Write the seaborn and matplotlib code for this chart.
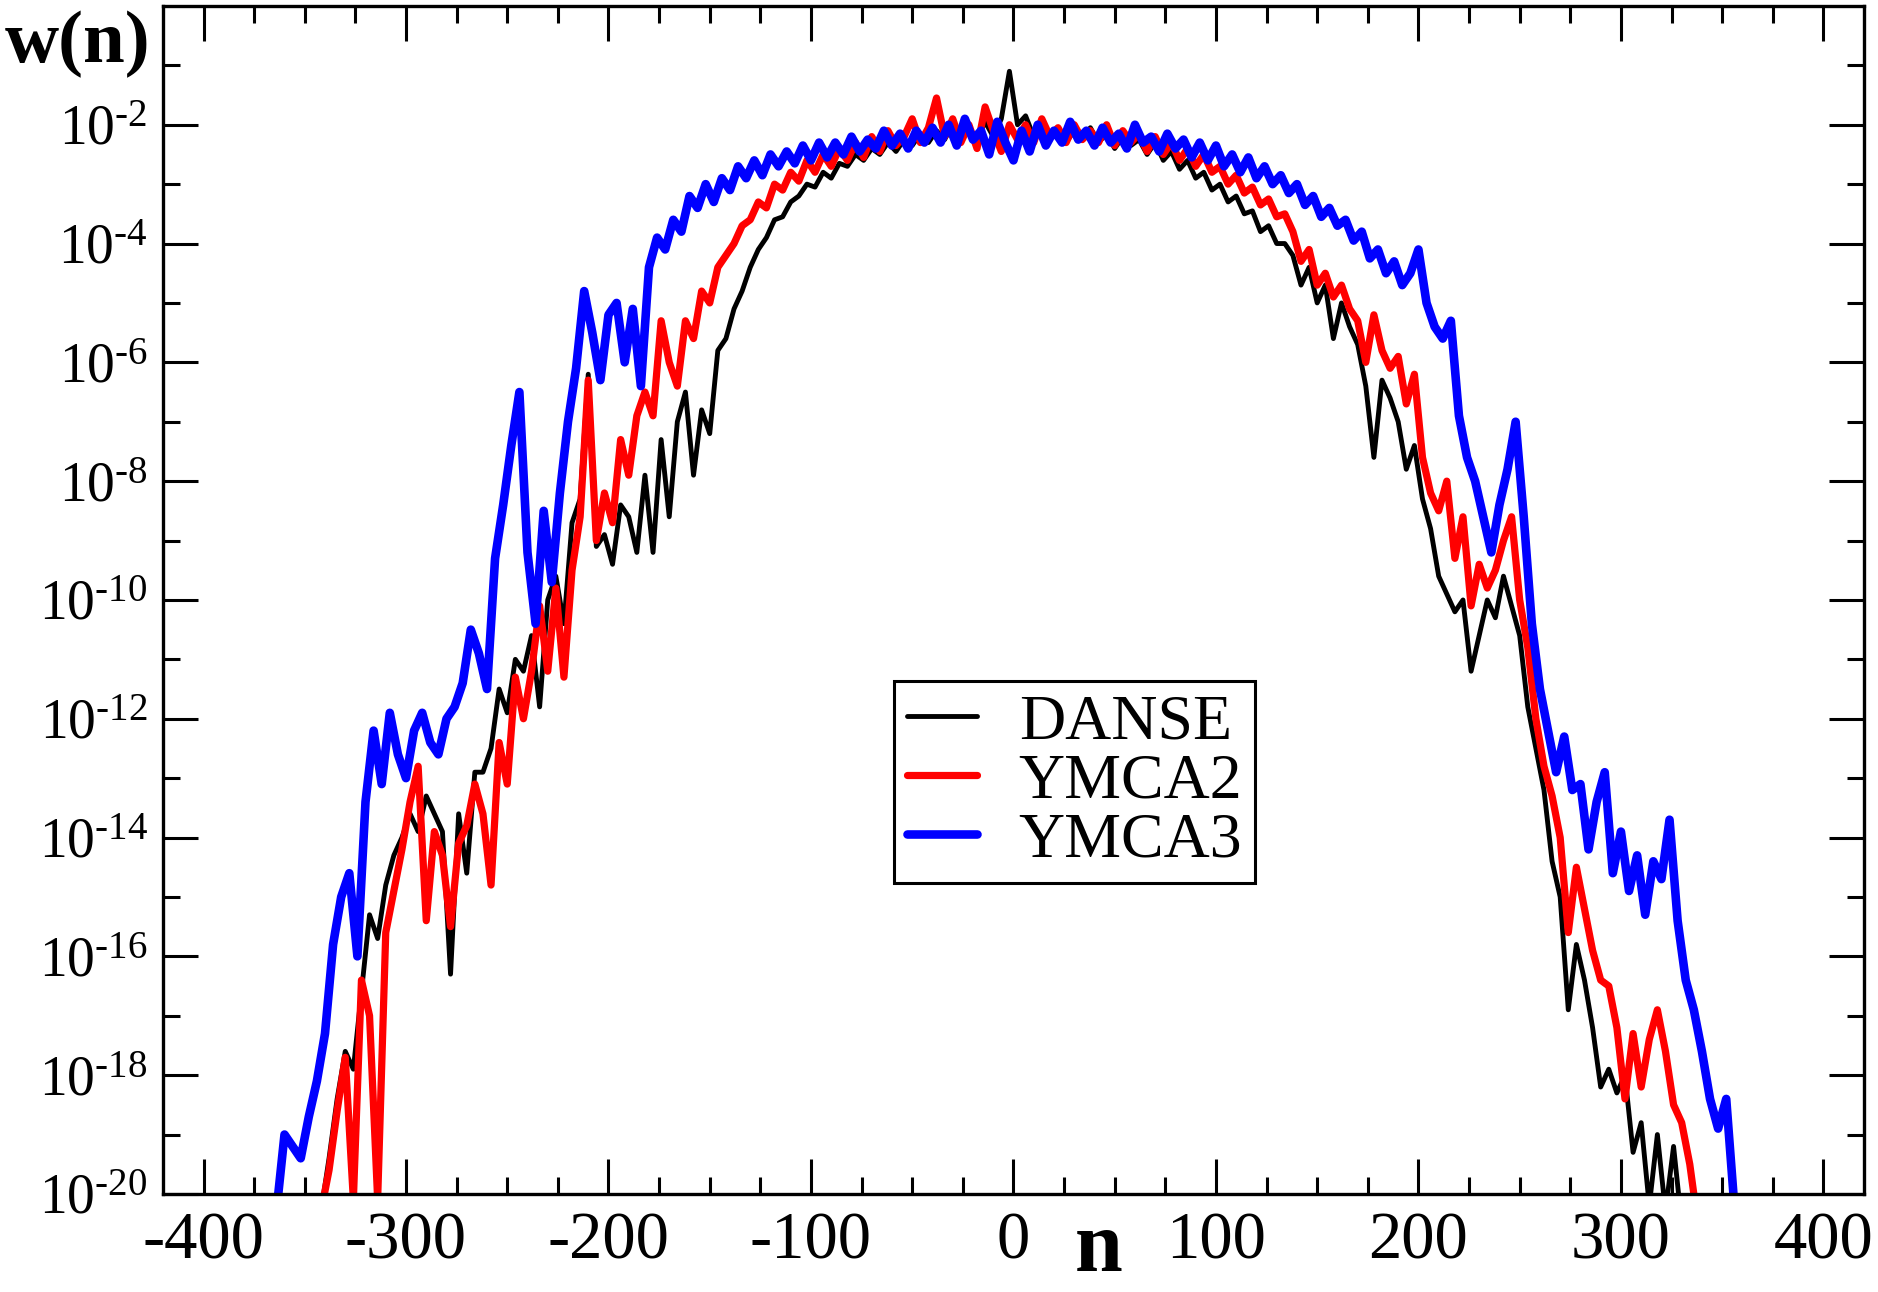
import numpy as np
import matplotlib
matplotlib.use("Agg")
import matplotlib.pyplot as plt
import seaborn as sns
from matplotlib.ticker import NullFormatter

# series data: n on an integer grid (every 4th site), values are log10 w(n)
n_danse = np.arange(-342, 331, 4)
logw_danse = [
    -20.3, -19.4, -18.4, -17.6, -17.9, -16.6, -15.3, -15.7, -14.8, -14.3,
    -14.0, -13.6, -13.9, -13.3, -13.6, -13.9, -16.3, -13.6, -14.6, -12.9,
    -12.9, -12.5, -11.5, -11.9, -11.0, -11.2, -10.6, -11.8, -10.0, -9.6,
    -10.4, -8.7, -8.3, -6.2, -9.1, -8.9, -9.4, -8.4, -8.6, -9.2,
    -7.9, -9.2, -7.3, -8.6, -7.0, -6.5, -7.9, -6.8, -7.2, -5.8,
    -5.6, -5.1, -4.8, -4.4, -4.1, -3.9, -3.6, -3.55, -3.3, -3.2,
    -3.0, -3.05, -2.8, -2.9, -2.65, -2.7, -2.5, -2.6, -2.4, -2.5,
    -2.3, -2.45, -2.25, -2.35, -2.15, -2.3, -2.1, -2.25, -2.0, -2.2,
    -2.05, -2.25, -1.95, -2.2, -1.9, -1.1,
    -2.0, -1.85, -2.2, -2.0, -2.25, -2.05, -2.3, -2.1, -2.2, -2.05,
    -2.3, -2.15, -2.4, -2.2, -2.35, -2.25, -2.5, -2.3, -2.6, -2.45,
    -2.75, -2.6, -2.9, -2.8, -3.1, -3.0, -3.3, -3.2, -3.5, -3.45,
    -3.8, -3.7, -4.0, -4.0, -4.2, -4.7, -4.4, -5.0, -4.7, -5.6,
    -5.0, -5.4, -5.7, -6.4, -7.6, -6.3, -6.6, -7.0, -7.8, -7.4,
    -8.3, -8.8, -9.6, -9.9, -10.2, -10.0, -11.2, -10.6, -10.0, -10.3,
    -9.6, -10.1, -10.6, -11.8, -12.5, -13.2, -14.4, -15.0, -16.9, -15.8,
    -16.4, -17.2, -18.2, -17.9, -18.3, -18.0, -19.3, -18.8, -20.2, -19.0,
    -20.3, -19.2, -20.5,
]

n_ymca2 = np.arange(-342, 339, 4)
logw_ymca2 = [
    -20.3, -19.6, -18.6, -17.7, -20.1, -16.4, -17.0, -20.1, -15.6, -14.9,
    -14.2, -13.4, -12.8, -15.4, -13.9, -14.3, -15.5, -14.1, -13.8, -13.1,
    -13.6, -14.8, -12.4, -13.1, -11.3, -12.0, -11.2, -10.1, -11.2, -9.8,
    -11.3, -9.5, -8.6, -6.3, -9.0, -8.2, -8.7, -7.3, -7.9, -6.9,
    -6.5, -6.9, -5.3, -6.0, -6.4, -5.3, -5.6, -4.8, -5.0, -4.4,
    -4.2, -4.0, -3.7, -3.6, -3.3, -3.4, -3.0, -3.1, -2.8, -2.95,
    -2.6, -2.8, -2.5, -2.7, -2.4, -2.6, -2.3, -2.55, -2.2, -2.45,
    -2.1, -2.35, -2.2, -1.9, -2.3, -2.05, -1.55, -2.2, -1.9, -2.3,
    -2.0, -2.4, -1.7, -2.1, -2.45, -2.0,
    -2.25, -2.0, -2.3, -1.9, -2.2, -2.05, -2.3, -2.0, -2.25, -2.1,
    -2.3, -2.0, -2.35, -2.1, -2.3, -2.15, -2.45, -2.2, -2.5, -2.3,
    -2.6, -2.4, -2.7, -2.5, -2.8, -2.7, -3.0, -2.85, -3.15, -3.05,
    -3.35, -3.25, -3.55, -3.5, -3.8, -4.3, -4.1, -4.7, -4.5, -4.9,
    -4.7, -5.1, -5.3, -6.0, -5.2, -5.8, -6.1, -5.9, -6.7, -6.2,
    -7.6, -8.2, -8.5, -8.0, -9.3, -8.6, -10.1, -9.4, -9.8, -9.5,
    -9.0, -8.6, -10.0, -10.8, -12.0, -12.8, -13.3, -14.0, -15.6, -14.5,
    -15.2, -15.9, -16.4, -16.5, -17.2, -18.4, -17.3, -18.2, -17.4, -16.9,
    -17.6, -18.5, -18.8, -19.5, -20.5,
]

n_ymca3 = np.arange(-364, 357, 4)
logw_ymca3 = [
    -20.3, -19.0, -19.2, -19.4, -18.7, -18.1, -17.3, -15.8, -15.0, -14.6,
    -16.0, -13.4, -12.2, -13.1, -11.9, -12.6, -13.0, -12.2, -11.9, -12.4,
    -12.6, -12.0, -11.8, -11.4, -10.5, -10.9, -11.5, -9.3, -8.4, -7.4,
    -6.5, -9.2, -10.4, -8.5, -9.7, -8.2, -7.0, -6.1, -4.8, -5.5,
    -6.3, -5.2, -5.0, -6.0, -5.1, -6.4, -4.4, -3.9, -4.1, -3.6,
    -3.8, -3.2, -3.4, -3.0, -3.3, -2.9, -3.1, -2.7, -2.9, -2.6,
    -2.85, -2.5, -2.7, -2.45, -2.65, -2.35, -2.6, -2.3, -2.55, -2.3,
    -2.5, -2.2, -2.45, -2.25, -2.4, -2.1, -2.35, -2.15, -2.4, -2.1,
    -2.3, -2.05, -2.3, -2.0, -2.35, -1.9, -2.25, -2.1, -2.5, -1.95,
    -2.3, -2.6,
    -2.1, -2.45, -2.0, -2.35, -2.1, -2.3, -1.95, -2.25, -2.1, -2.35,
    -2.05, -2.3, -2.15, -2.4, -2.0, -2.3, -2.2, -2.45, -2.15, -2.4,
    -2.25, -2.55, -2.3, -2.6, -2.35, -2.7, -2.5, -2.8, -2.55, -2.9,
    -2.7, -3.0, -2.85, -3.15, -3.0, -3.35, -3.2, -3.55, -3.4, -3.7,
    -3.6, -3.95, -3.8, -4.25, -4.1, -4.5, -4.3, -4.7, -4.5, -4.1,
    -5.0, -5.4, -5.6, -5.3, -6.9, -7.6, -8.0, -8.6, -9.2, -8.4,
    -7.8, -7.0, -8.6, -10.4, -11.5, -12.2, -12.9, -12.3, -13.2, -13.1,
    -14.2, -13.4, -12.9, -14.6, -13.9, -14.9, -14.3, -15.3, -14.4, -14.7,
    -13.7, -15.4, -16.4, -16.9, -17.6, -18.4, -18.9, -18.4, -20.2,
]

x_ticks = [-400, -300, -200, -100, 0, 100, 200, 300, 400]
x_ticklabels = ["-400", "-300", "-200", "-100", "0", "100", "200", "300", "400"]
y_exponents = [-20, -18, -16, -14, -12, -10, -8, -6, -4, -2]

sns.set_style("ticks")
plt.rcParams['font.family'] = ['Liberation Serif', 'DejaVu Serif']
plt.rcParams['mathtext.fontset'] = 'custom'
plt.rcParams['mathtext.rm'] = 'Liberation Serif'
plt.rcParams['mathtext.it'] = 'Liberation Serif:italic'
plt.rcParams['mathtext.bf'] = 'Liberation Serif:bold'
plt.rcParams['axes.unicode_minus'] = False
for key in ['text.color', 'axes.labelcolor', 'xtick.color', 'ytick.color', 'axes.edgecolor']:
    plt.rcParams[key] = 'black'

fig, ax = plt.subplots(figsize=(18.78, 12.92), dpi=100)
fig.subplots_adjust(left=0.0868, right=0.9925, bottom=0.0759, top=0.9954)
ax.set_yscale('log')

sns.lineplot(x=n_danse, y=10.0 ** np.array(logw_danse), color='black', lw=3.5,
             label='DANSE', ax=ax)
sns.lineplot(x=n_ymca2, y=10.0 ** np.array(logw_ymca2), color='#ff0000', lw=5.2,
             label='YMCA2', ax=ax)
sns.lineplot(x=n_ymca3, y=10.0 ** np.array(logw_ymca3), color='#0000ff', lw=6.2,
             label='YMCA3', ax=ax)

ax.set_xlim(-420, 420)
ax.set_ylim(1e-20, 1.0)

ax.set_xticks(x_ticks, labels=x_ticklabels)
ax.set_xticks(np.arange(-400, 401, 25), minor=True)
ax.set_yticks([10.0 ** e for e in y_exponents],
              labels=[r'$10^{\text{-}%d}$' % (-e) for e in y_exponents])
ax.set_yticks([10.0 ** e for e in range(-19, 0, 2)], minor=True)
ax.yaxis.set_minor_formatter(NullFormatter())

ax.tick_params(which='both', direction='in', top=True, right=True, width=2.2, colors='black')
ax.tick_params(which='major', length=25)
ax.tick_params(which='minor', length=12.5)
ax.tick_params(axis='x', which='major', labelsize=48, pad=13)
ax.tick_params(axis='y', which='major', labelsize=40, pad=11)
for sp in ax.spines.values():
    sp.set_linewidth(2.4)
    sp.set_color('black')

ax.set_xlabel('n', fontsize=62, fontweight='bold')
ax.xaxis.set_label_coords(0.550, -0.0650)
ax.xaxis.label.set_verticalalignment('baseline')
ax.set_ylabel('w(n)', fontsize=54, fontweight='bold', rotation=0)
ax.yaxis.set_label_coords(-0.093, 0.953)
ax.yaxis.label.set_verticalalignment('baseline')
ax.yaxis.label.set_horizontalalignment('left')

leg = ax.legend(loc='lower left', bbox_to_anchor=(0.4298, 0.2618), borderaxespad=0,
                frameon=True, fancybox=False, edgecolor='black', framealpha=1,
                fontsize=46, handlelength=1.1, handletextpad=0.65, borderpad=0.2,
                labelspacing=0.0)
leg.get_frame().set_linewidth(2.2)

fig.savefig('out.png', dpi=100)
